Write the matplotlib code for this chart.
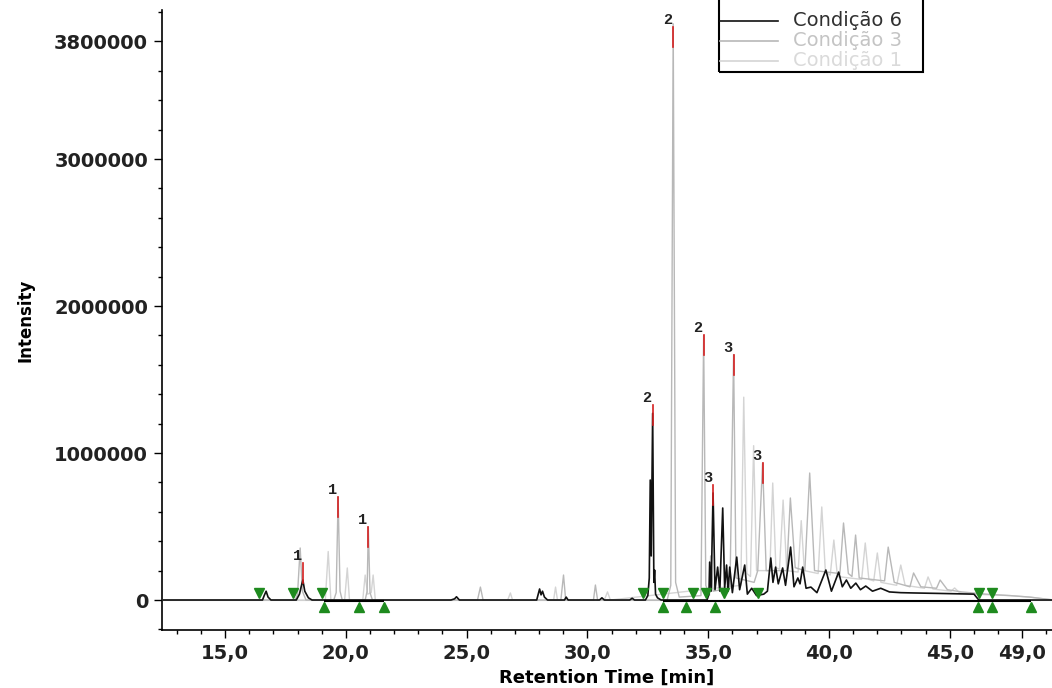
import numpy as np
import matplotlib
matplotlib.use('Agg')
import matplotlib.pyplot as plt
from matplotlib.ticker import MultipleLocator, FixedLocator
from matplotlib.patches import Rectangle
from matplotlib.lines import Line2D

# chromatogram traces (retention time in min, intensity)
c6_time = [12.4, 16.55, 16.62, 16.70, 16.78, 16.9, 17.95, 18.08, 18.15, 18.22, 18.30, 18.45, 18.6,
           24.35, 24.5, 24.58, 24.7, 27.9, 28.02, 28.08, 28.14, 28.22, 28.35, 29.05, 29.12, 29.2,
           30.5, 30.6, 30.7, 31.75, 31.85, 31.95, 32.4, 32.5, 32.56, 32.60, 32.64, 32.70, 32.75,
           32.78, 32.82, 32.9, 33.05, 34.95, 35.03, 35.06, 35.12, 35.20, 35.28, 35.39, 35.48, 35.60,
           35.68, 35.76, 35.82, 35.89, 36.0, 36.18, 36.3, 36.51, 36.62, 36.80, 37.0, 37.3, 37.45,
           37.59, 37.68, 37.79, 37.9, 38.08, 38.2, 38.41, 38.55, 38.71, 38.8, 38.91, 39.05, 39.25,
           39.5, 39.87, 40.1, 40.40, 40.55, 40.72, 40.9, 41.11, 41.3, 41.52, 41.8, 42.14, 42.5,
           42.97, 43.5, 44.5, 46.0, 46.2, 49.3]
c6_int = [0, 0, 30000, 60000, 20000, 0, 0, 40000, 90000, 136000, 60000, 15000, 0,
          0, 8000, 22000, 0, 0, 75000, 35000, 60000, 20000, 0, 0, 20000, 0,
          0, 15000, 0, 0, 12000, 0, 0, 30000, 150000, 816000, 300000, 1270000, 120000,
          204000, 40000, 15000, 0, 0, 40000, 258000, 60000, 728000, 70000, 224000, 60000, 626000,
          80000, 238000, 60000, 224000, 50000, 292000, 70000, 238000, 40000, 80000, 30000, 40000, 60000,
          286000, 120000, 224000, 110000, 218000, 100000, 360000, 90000, 150000, 110000, 224000, 80000, 88000,
          50000, 204000, 60000, 190000, 90000, 136000, 80000, 115000, 70000, 95000, 60000, 80000, 55000,
          50000, 48000, 45000, 40000, 0, 0]

c3_time = [12.4, 17.9, 18.0, 18.11, 18.2, 18.35, 19.5, 19.6, 19.68, 19.76, 19.85, 20.8, 20.88, 20.93,
           21.0, 21.1, 25.45, 25.57, 25.68, 28.9, 29.01, 29.1, 30.25, 30.33, 30.42, 33.3, 33.45, 33.55,
           33.65, 33.8, 34.7, 34.81, 34.9, 35.05, 35.1, 35.2, 35.9, 36.05, 36.15, 36.9, 37.05, 37.25,
           37.4, 38.25, 38.4, 38.6, 39.0, 39.2, 39.4, 40.45, 40.6, 40.8, 40.95, 41.1, 41.25, 42.3,
           42.45, 42.7, 43.35, 43.5, 43.8, 44.45, 44.6, 44.9, 45.5, 46.5, 47.5, 48.3, 49.3]
c3_int = [0, 0, 40000, 354000, 60000, 0, 0, 50000, 700000, 60000, 0, 0, 60000, 497000,
          50000, 0, 0, 88000, 0, 0, 170000, 0, 0, 102000, 0, 0, 100000, 3920000,
          120000, 20000, 30000, 1800000, 100000, 30000, 300000, 60000, 80000, 1670000, 150000, 120000, 200000, 932000,
          200000, 200000, 694000, 220000, 200000, 864000, 200000, 180000, 524000, 180000, 160000, 442000, 150000, 130000,
          360000, 120000, 90000, 184000, 90000, 80000, 136000, 70000, 55000, 40000, 30000, 20000, 0]

c1_time = [12.4, 19.15, 19.27, 19.38, 19.95, 20.06, 20.15, 20.7, 20.80, 20.9, 21.05, 21.13, 21.22,
           26.7, 26.81, 26.9, 28.6, 28.68, 28.76, 30.7, 30.83, 30.95, 36.35, 36.47, 36.6, 36.75,
           36.88, 37.0, 37.55, 37.67, 37.8, 37.95, 38.1, 38.25, 38.72, 38.85, 38.98, 39.55, 39.7,
           39.85, 40.05, 40.2, 40.35, 41.35, 41.5, 41.65, 41.85, 42.0, 42.15, 42.8, 42.97, 43.15,
           43.95, 44.1, 44.3, 45.05, 45.2, 45.4, 46.0, 46.8, 47.5, 48.3, 49.3]
c1_int = [0, 0, 330000, 0, 0, 218000, 0, 0, 170000, 40000, 50000, 170000, 0,
          0, 48000, 0, 0, 88000, 0, 0, 55000, 0, 100000, 1380000, 180000, 160000,
          1050000, 200000, 200000, 796000, 220000, 210000, 680000, 200000, 190000, 540000, 200000, 180000, 633000,
          190000, 170000, 408000, 160000, 140000, 388000, 140000, 130000, 320000, 120000, 100000, 238000, 100000,
          80000, 157000, 75000, 60000, 82000, 50000, 40000, 34000, 30000, 20000, 0]

# peak start / end markers
start_time = [16.41, 17.82, 19.02, 32.32, 33.11, 34.35, 34.89, 35.64, 37.05, 46.21, 46.74]
end_time = [19.10, 20.55, 21.59, 33.11, 34.07, 35.27, 46.16, 46.74, 48.36]
baseline_start = [19.10, 33.11]
baseline_end = [21.59, 48.36]

# peak labels
label_text = ['1', '1', '1', '2', '2', '2', '3', '3', '3']
label_time = [18.23, 19.68, 20.93, 32.70, 33.55, 34.81, 35.20, 36.05, 37.25]
label_int = [250000, 700000, 500000, 1330000, 3900000, 1800000, 782000, 1670000, 932000]

legend_labels = ['Condição 6', 'Condição 3', 'Condição 1']
line_colors = ['#111111', '#b8b8b8', '#d4d4d4']
legend_text_colors = ['#303030', '#c4c4c4', '#dadada']

x_ticks = [15, 20, 25, 30, 35, 40, 45, 48]
x_tick_labels = ['15,0', '20,0', '25,0', '30,0', '35,0', '40,0', '45,0', '49,0']
y_ticks = [0, 1000000, 2000000, 3000000, 3800000]

W, H = 1052, 688
fig = plt.figure(figsize=(W / 100, H / 100), dpi=100)
ax = fig.add_axes([162 / W, 58 / H, (W - 162) / W, 620 / H])

ax.axhline(0, color='#c8c8c8', lw=0.8, zorder=1)
ax.plot(c1_time, c1_int, color=line_colors[2], lw=1.0, zorder=2)
ax.plot(c3_time, c3_int, color=line_colors[1], lw=1.0, zorder=3)
ax.plot(c6_time, c6_int, color=line_colors[0], lw=1.2, zorder=4)

ax.hlines([-8000] * len(baseline_start), baseline_start, baseline_end, color='black', lw=1.5, zorder=4)
ax.plot(start_time, [50000] * len(start_time), 'v', color='#1e8a1e', ms=7, zorder=5)
ax.plot(end_time, [-50000] * len(end_time), '^', color='#1e8a1e', ms=7, zorder=5)

for txt, t, h in zip(label_text, label_time, label_int):
    ax.plot([t, t], [h, h - 136000], color='#d42020', lw=1.2, zorder=6)
    ax.annotate(txt, (t, h), xytext=(-4, 0), textcoords='offset points', ha='center', va='bottom',
                fontsize=11, fontweight='bold', family='Liberation Mono', color='#222222', zorder=7)

ax.set_xlim(12.39, 49.23)
ax.set_ylim(-204000, 4014000)
for s in ['top', 'right']:
    ax.spines[s].set_visible(False)
for s in ['left', 'bottom']:
    ax.spines[s].set_linewidth(1.2)

ax.xaxis.set_major_locator(FixedLocator(x_ticks))
ax.set_xticklabels(x_tick_labels)
ax.xaxis.set_minor_locator(MultipleLocator(1))
ax.yaxis.set_major_locator(FixedLocator(y_ticks))
ax.set_yticklabels([str(v) for v in y_ticks])
ax.yaxis.set_minor_locator(MultipleLocator(200000))
ax.tick_params(which='major', length=6, width=1, direction='out', labelsize=14, pad=4)
ax.tick_params(which='minor', length=3, width=1, direction='out')
for lab in ax.get_xticklabels() + ax.get_yticklabels():
    lab.set_fontweight('bold')
    lab.set_color('#222222')

ax.set_xlabel('Retention Time [min]', fontsize=13, fontweight='bold', labelpad=4)
ax.set_ylabel('Intensity', fontsize=12, fontweight='bold', labelpad=14)

# legend box (top edge sits above the figure)
fig.add_artist(Rectangle((719 / W, 1 - 72 / H), 204 / W, 80 / H, transform=fig.transFigure,
                         fill=False, edgecolor='black', lw=1.5, clip_on=False))
for i, (lab, lc, tc) in enumerate(zip(legend_labels, line_colors, legend_text_colors)):
    yy = 1 - (21 + 20 * i) / H
    fig.add_artist(Line2D([720 / W, 778 / W], [yy, yy], transform=fig.transFigure, color=lc, lw=1.2))
    fig.text(793 / W, yy, lab, ha='left', va='center', fontsize=14, color=tc)

fig.savefig('out.png', dpi=100)
